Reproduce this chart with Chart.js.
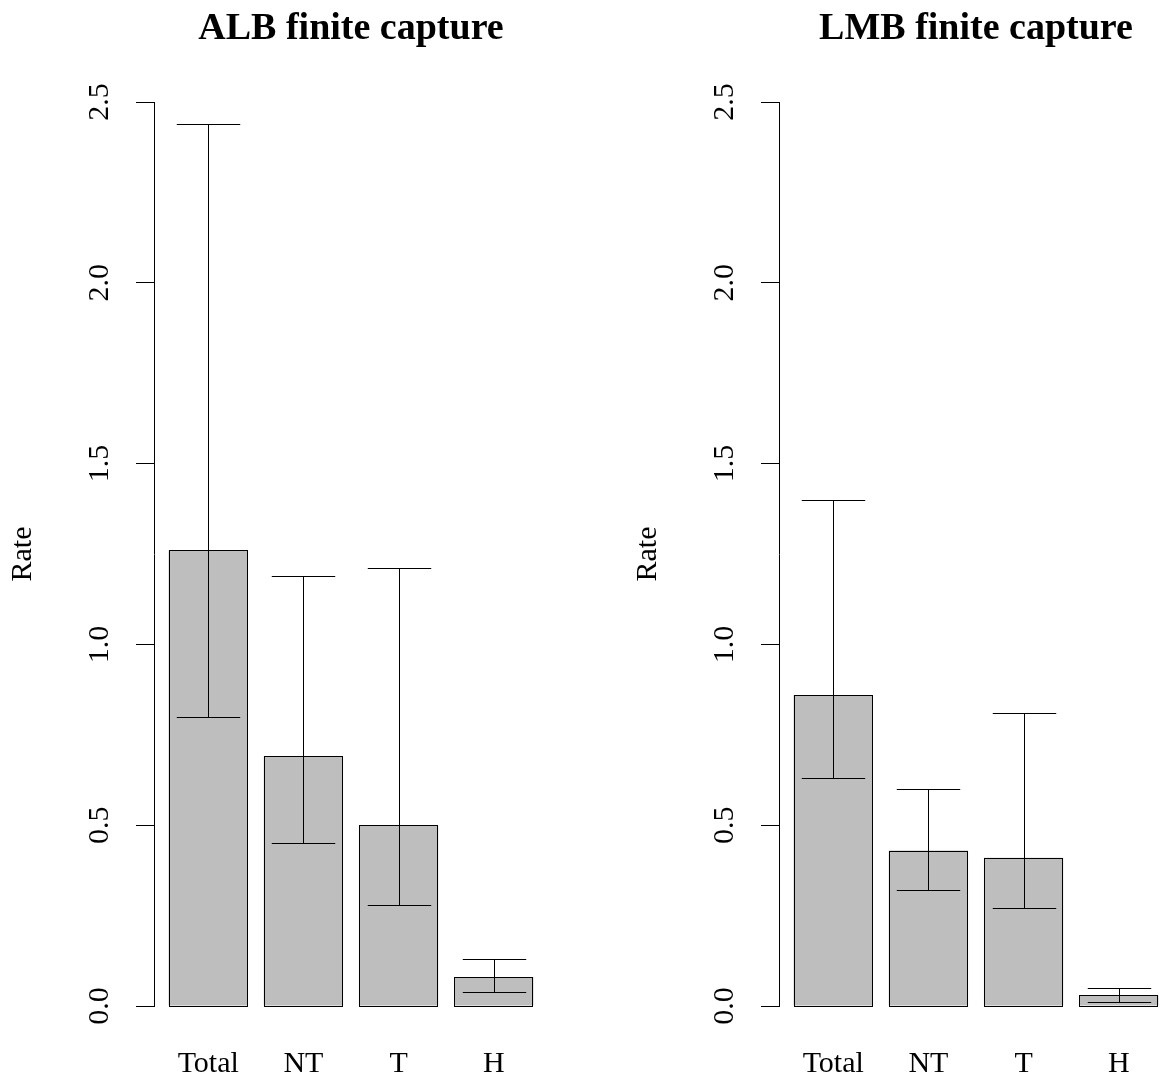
<!DOCTYPE html>
<html>
<head>
<meta charset="utf-8">
<script src="https://cdn.jsdelivr.net/npm/chart.js@4.4.1/dist/chart.umd.min.js"></script>
<style>
  html, body { margin: 0; padding: 0; background: #fff; overflow: hidden; }
  #wrap { position: relative; width: 1162px; height: 1083px; overflow: hidden; }
  .panel { position: absolute; top: 0; width: 625px; height: 1083px; }
</style>
</head>
<body>
<div id="wrap">
  <div class="panel" style="left:0"><canvas id="albChart" width="625" height="1083"></canvas></div>
  <div class="panel" style="left:625px"><canvas id="lmbChart" width="625" height="1083"></canvas></div>
</div>
<script>
// Dữ liệu
const categories = ['Total', 'NT', 'T', 'H'];
const barPositions = [0.7, 1.9, 3.1, 4.3];
const yTicks = [0, 0.5, 1, 1.5, 2, 2.5];

const albRate = [1.26, 0.69, 0.50, 0.08];
const albLower = [0.80, 0.45, 0.28, 0.04];
const albUpper = [2.44, 1.19, 1.21, 0.13];

const lmbRate = [0.86, 0.43, 0.41, 0.03];
const lmbLower = [0.63, 0.32, 0.27, 0.01];
const lmbUpper = [1.40, 0.60, 0.81, 0.05];

const serif = 'Liberation Serif, Times New Roman, serif';

// Viền cột + thanh sai số (error bars)
const errorBars = {
    id: 'errorBars',
    afterDatasetsDraw(chart, args, opts) {
        const meta = chart.getDatasetMeta(0);
        const yScale = chart.scales.y;
        const ctx = chart.ctx;
        ctx.save();
        ctx.strokeStyle = '#000';
        ctx.lineWidth = 1;
        meta.data.forEach((bar, i) => {
            // viền cột đầy đủ, kể cả cạnh dưới
            const l = Math.round(bar.x - bar.width / 2) + 0.5;
            const r = Math.round(bar.x + bar.width / 2) - 0.5;
            const t = Math.round(bar.y) + 0.5;
            const b = Math.round(bar.base) + 0.5;
            ctx.strokeRect(l, t, r - l, b - t);

            const x = Math.round(bar.x) + 0.5;
            const half = bar.width * 0.4;
            const yLo = Math.round(yScale.getPixelForValue(opts.lower[i])) + 0.5;
            const yHi = Math.round(yScale.getPixelForValue(opts.upper[i])) + 0.5;
            ctx.beginPath();
            ctx.moveTo(x, yLo); ctx.lineTo(x, yHi);
            ctx.moveTo(x - half, yLo); ctx.lineTo(x + half, yLo);
            ctx.moveTo(x - half, yHi); ctx.lineTo(x + half, yHi);
            ctx.stroke();
        });
        ctx.restore();
    }
};

function makeChart(id, title, rate, lower, upper) {
    const ctx = document.getElementById(id).getContext('2d');
    return new Chart(ctx, {
        type: 'bar',
        data: {
            datasets: [{
                data: barPositions.map((x, i) => ({ x: x, y: rate[i] })),
                backgroundColor: '#BEBEBE',
                borderColor: '#000',
                borderWidth: 0,
                clip: false,
                barPercentage: 1 / 1.2,
                categoryPercentage: 1
            }]
        },
        options: {
            responsive: false,
            animation: false,
            layout: { padding: { left: 0, right: 77, top: 0, bottom: 0 } },
            plugins: {
                legend: { display: false },
                tooltip: { enabled: false },
                title: {
                    display: true,
                    text: title,
                    color: '#000',
                    fullSize: false,
                    font: { family: serif, size: 38, weight: 'bold' },
                    padding: { top: 6, bottom: 50.4 }
                },
                errorBars: { lower: lower, upper: upper }
            },
            scales: {
                x: {
                    type: 'linear',
                    min: 0.016,
                    max: 4.984,
                    offset: false,
                    grid: { display: false, drawTicks: false },
                    border: { display: false },
                    afterBuildTicks: s => { s.ticks = barPositions.map(v => ({ value: v })); },
                    afterFit: s => { s.height = 77; },
                    ticks: {
                        color: '#000',
                        font: { family: serif, size: 30 },
                        padding: 40,
                        autoSkip: false,
                        minRotation: 0,
                        maxRotation: 0,
                        callback: v => categories[barPositions.indexOf(v)] ?? ''
                    }
                },
                y: {
                    min: 0,
                    max: 2.5,
                    afterBuildTicks: s => { s.ticks = yTicks.map(v => ({ value: v })); },
                    afterFit: s => { s.width = 154; },
                    grid: {
                        drawOnChartArea: false,
                        drawTicks: true,
                        tickLength: 18,
                        color: '#000',
                        lineWidth: 1
                    },
                    border: { display: true, color: '#000', width: 1 },
                    title: {
                        display: true,
                        text: 'Rate',
                        color: '#000',
                        font: { family: serif, size: 30 },
                        padding: { top: 5, bottom: 0 }
                    },
                    ticks: {
                        color: '#000',
                        font: { family: serif, size: 30 },
                        padding: 17,
                        crossAlign: 'center',
                        minRotation: 90,
                        maxRotation: 90,
                        callback: v => v.toFixed(1)
                    }
                }
            }
        },
        plugins: [errorBars]
    });
}

makeChart('albChart', 'ALB finite capture', albRate, albLower, albUpper);
makeChart('lmbChart', 'LMB finite capture', lmbRate, lmbLower, lmbUpper);
</script>
</body>
</html>
